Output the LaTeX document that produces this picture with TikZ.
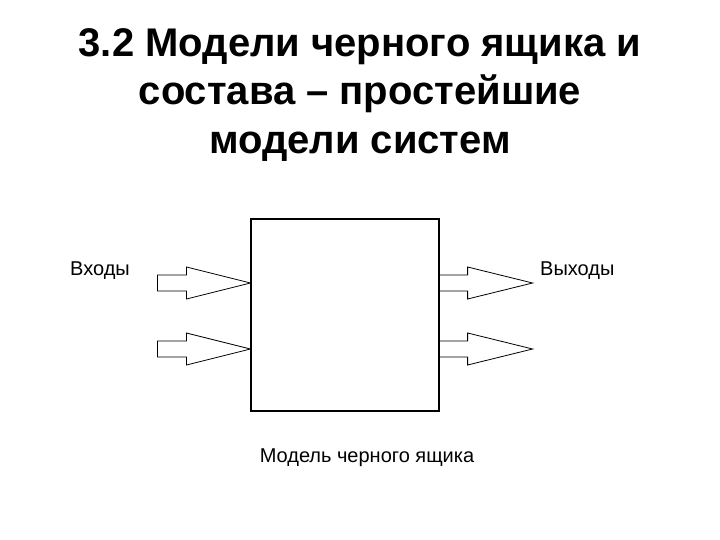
\documentclass[tikz,border=0pt]{standalone}
\usepackage{fontspec}
\setmainfont{Liberation Sans}
\usetikzlibrary{calc}

\begin{document}
\begin{tikzpicture}[x=1pt, y=-1pt,
	every node/.style={font=\fontsize{20}{24}\selectfont},
	blockarrow/.style={draw, line width=0.8pt, line join=miter}]
	\useasboundingbox (0,0) rectangle (720,540);
	% title
	\node[font=\bfseries\fontsize{40}{48.5}\selectfont, align=center, anchor=north, inner sep=0pt] (title) at (360,28)
		{3.2 Модели черного ящика и\\ состава – простейшие\\ модели систем};
	% the black box
	\node[draw, line width=1.2pt, minimum width=188pt, minimum height=192pt, inner sep=0pt] (box) at (345,315) {};
	\foreach \i/\dy in {1/-32, 2/34} {
		\coordinate (in\i) at ($(box.west)+(0,\dy)$);
		\coordinate (out\i) at ($(box.east)+(0,\dy)$);
		\draw[blockarrow] (in\i) -- ++(-64,-16) -- ++(0,8) -- ++(-29,0) -- ++(0,16) -- ++(29,0) -- ++(0,8) -- cycle;
		\draw[blockarrow] (out\i) ++(0,-8) -- ++(28,0) -- ++(0,-8) -- ++(65,16) -- ++(-65,16) -- ++(0,-8) -- ++(-28,0);
	}
	\node[anchor=base west, inner sep=0pt] (inputs) at (70,275) {Входы};
	\node[anchor=base west, inner sep=0pt] (outputs) at (540,275) {Выходы};
	\node[anchor=base, inner sep=0pt] (caption) at (367,462) {Модель черного ящика};
\end{tikzpicture}
\end{document}
